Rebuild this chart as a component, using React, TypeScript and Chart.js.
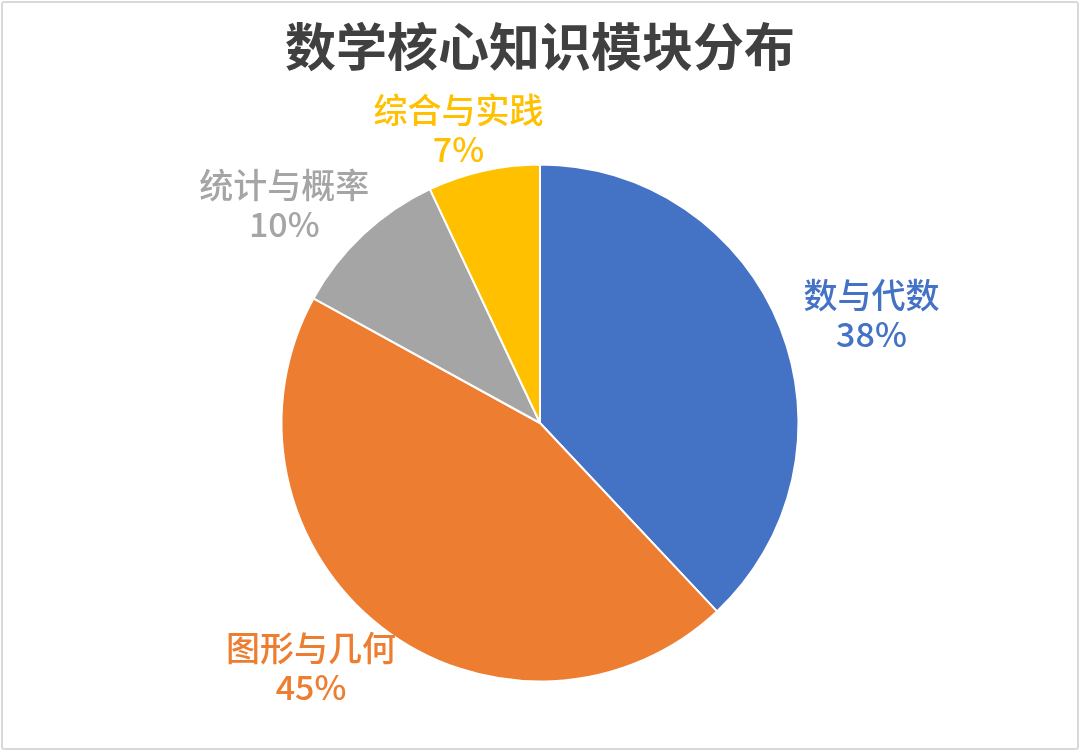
import React, { useEffect, useRef } from "react";
import { Chart, registerables } from "chart.js";

Chart.register(...registerables);

const TITLE = "数学核心知识模块分布";
const categories = ["数与代数", "图形与几何", "统计与概率", "综合与实践"];
const shares = [38, 45, 10, 7];
const percentLabels = ["38%", "45%", "10%", "7%"];
const colors = ["#4472C4", "#ED7D31", "#A5A5A5", "#FFC000"];

const FONT = '"Noto Sans CJK SC", "Noto Sans", sans-serif';
const W = 1080;
const H = 751;

const outerLabels = {
  id: "outerLabels",
  afterDatasetsDraw(chart: any) {
    const ctx = chart.ctx as CanvasRenderingContext2D;
    const meta = chart.getDatasetMeta(0);
    const lh = 39;
    ctx.save();
    ctx.font = `500 34px ${FONT}`;
    ctx.textAlign = "center";
    ctx.textBaseline = "middle";
    meta.data.forEach((arc: any, i: number) => {
      const { x, y, startAngle, endAngle, outerRadius } = arc.getProps(
        ["x", "y", "startAngle", "endAngle", "outerRadius"],
        true
      );
      const mid = (startAngle + endAngle) / 2;
      const ux = Math.cos(mid);
      const uy = Math.sin(mid);
      const l1 = categories[i];
      const l2 = percentLabels[i];
      const w = Math.max(ctx.measureText(l1).width, ctx.measureText(l2).width);
      const h = lh * 2 - 9;
      const cx = x + ux * (outerRadius + 30) + (ux * w) / 2;
      const cy = y + uy * (outerRadius + 12) + (uy * h) / 2 + 4;
      ctx.fillStyle = colors[i];
      ctx.fillText(l1, cx, cy - lh / 2);
      ctx.fillText(l2, cx, cy + lh / 2);
    });
    ctx.restore();
  },
};

export default function App() {
  const ref = useRef<HTMLCanvasElement | null>(null);

  useEffect(() => {
    if (!ref.current) return;
    const chart = new Chart(ref.current, {
      type: "pie",
      data: {
        labels: categories,
        datasets: [
          {
            data: shares,
            backgroundColor: colors,
            borderColor: "#ffffff",
            borderWidth: 2,
          },
        ],
      },
      options: {
        responsive: false,
        animation: false,
        layout: { padding: { top: 0, bottom: 68.5, left: 0, right: 0 } },
        plugins: {
          legend: { display: false },
          tooltip: { enabled: false },
          title: {
            display: true,
            text: TITLE,
            color: "#404040",
            font: { family: FONT, size: 51, weight: "bold", lineHeight: 1.2 },
            padding: { top: 16, bottom: 86.3 },
          },
        },
      },
      plugins: [outerLabels],
    });
    return () => chart.destroy();
  }, []);

  return (
    <div
      style={{
        position: "fixed",
        left: 0,
        top: 0,
        width: W,
        height: H,
        background: "#ffffff",
      }}
    >
      <canvas ref={ref} width={W} height={H} style={{ position: "absolute", left: 0, top: 0 }} />
      <div
        style={{
          position: "absolute",
          left: 1,
          top: 1,
          width: W - 6,
          height: H - 6,
          border: "2px solid #d9d9d9",
          borderRadius: 3,
          pointerEvents: "none",
        }}
      />
    </div>
  );
}
